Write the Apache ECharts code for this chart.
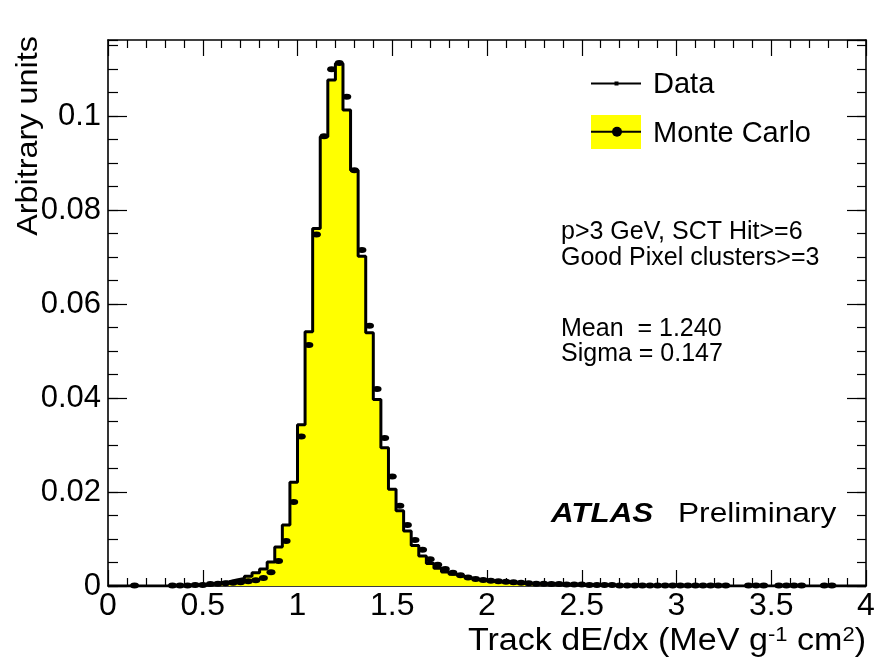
<!DOCTYPE html>
<html>
<head>
<meta charset="utf-8">
<script src="https://cdn.jsdelivr.net/npm/echarts@6/dist/echarts.min.js"></script>
<style>
  html, body { margin: 0; padding: 0; background: #fff; }
  #chart { width: 877px; height: 661px; }
</style>
</head>
<body>
<div id="chart"></div>
<script>
// Histogram binning: 100 bins of width 0.04 from 0 to 4
const BIN_WIDTH = 0.04;
const xRange = [0, 4];
const yRange = [0, 0.1162];
const xMajorStep = 0.5;
const yMajorStep = 0.02;
const yMinorStep = 0.005;

// Monte Carlo bin contents (bin i covers [0.04*i, 0.04*(i+1)])
const mcValues = [
  0, 0, 0, 0, 0, 0, 0, 0, 0, 0,
  0, 0.0001, 0.0002, 0.0004, 0.0007, 0.0009, 0.0013, 0.0016, 0.0021, 0.0028,
  0.0036, 0.0051, 0.0083, 0.0130, 0.0221, 0.0343, 0.0541, 0.0761, 0.0956, 0.1077,
  0.1112, 0.1013, 0.0885, 0.0702, 0.0539, 0.0397, 0.0294, 0.0206, 0.0160, 0.0117,
  0.0086, 0.0064, 0.0048, 0.0038, 0.0030, 0.0025, 0.0021, 0.0017, 0.0014, 0.0012,
  0.0010, 0.0009, 0.0008, 0.0007, 0.0006, 0.0005, 0.0005, 0.0004, 0.0004, 0.0003,
  0.0003, 0.0003, 0.0002, 0.0002, 0.0002, 0.0002, 0.0001, 0.0001, 0.0001, 0.0001,
  0.0001, 0.0001, 0.0001, 0.0001, 0.0001, 0, 0, 0, 0, 0,
  0, 0, 0, 0, 0, 0, 0, 0, 0, 0,
  0, 0, 0, 0, 0, 0, 0, 0, 0, 0
];

// Data bin contents, plotted at bin centres (null = empty bin)
const dataValues = [
  null, null, null, 0.0001, null, null, null, null, 0.0001, 0.0001,
  0.0001, 0.0002, 0.0002, 0.0004, 0.0005, 0.0006, 0.0007, 0.0008, 0.0010, 0.0012,
  0.0017, 0.0029, 0.0053, 0.0096, 0.0179, 0.0318, 0.0513, 0.0748, 0.0957, 0.1100,
  0.1113, 0.1041, 0.0885, 0.0715, 0.0554, 0.0419, 0.0315, 0.0233, 0.0171, 0.0130,
  0.0098, 0.0077, 0.0057, 0.0045, 0.0036, 0.0028, 0.0023, 0.0018, 0.0015, 0.0013,
  0.0011, 0.0010, 0.0009, 0.0008, 0.0007, 0.0006, 0.0005, 0.0005, 0.0004, 0.0004,
  0.0003, 0.0003, 0.0003, 0.0002, 0.0002, 0.0002, 0.0002, 0.0001, 0.0001, 0.0001,
  0.0001, 0.0001, 0.0001, 0.0001, 0.0001, 0.0001, 0.0001, 0.0001, 0.0001, 0.0001,
  0.0001, 0.0001, null, null, 0.0001, 0.0001, 0.0001, null, 0.0001, 0.0001,
  0.0001, 0.0001, null, null, 0.0001, 0.0001, null, null, null, null
];

const seriesNames = ['Data', 'Monte Carlo'];
const cutLines = ['p>3 GeV, SCT Hit>=6', 'Good Pixel clusters>=3'];
const fitLines = ['Mean  = 1.240', 'Sigma = 0.147'];

const FONT = '"Liberation Sans", Arial, Helvetica, sans-serif';
const INK = '#000';
const MC_FILL = '#ffff00';

// Step outline: one point per lower bin edge, plus the closing upper edge
const mcStep = mcValues.map((v, i) => [i * BIN_WIDTH, v]);
mcStep.push([mcValues.length * BIN_WIDTH, mcValues[mcValues.length - 1]]);

const dataPoints = dataValues
  .map((v, i) => (v == null ? null : [(i + 0.5) * BIN_WIDTH, v]))
  .filter(p => p !== null);

const tickLine = { color: INK, width: 1.2 };

function xAxisDef(position, withLabels) {
  return {
    type: 'value', position, min: xRange[0], max: xRange[1], interval: xMajorStep,
    axisLine: { show: true, onZero: false, lineStyle: { color: INK, width: 1.6 } },
    axisTick: { show: true, inside: true, length: 16, lineStyle: tickLine },
    minorTick: { show: true, splitNumber: 5, length: 8, lineStyle: tickLine },
    splitLine: { show: false }, minorSplitLine: { show: false },
    axisLabel: withLabels
      ? { show: true, color: INK, fontFamily: FONT, fontSize: 32, margin: 4 }
      : { show: false }
  };
}

function yAxisDef(position, step, tickLen, withLine, withLabels) {
  return {
    type: 'value', position, min: yRange[0], max: yRange[1], interval: step,
    axisLine: { show: withLine, onZero: false, lineStyle: { color: INK, width: 1.6 } },
    axisTick: { show: true, inside: true, length: tickLen, lineStyle: tickLine },
    splitLine: { show: false },
    axisLabel: withLabels
      ? { show: true, color: INK, fontFamily: FONT, fontSize: 31, margin: 7, showMaxLabel: false }
      : { show: false }
  };
}

const chart = echarts.init(document.getElementById('chart'), null, { renderer: 'canvas' });

const graphics = [
  // y-axis title
  {
    type: 'text', x: 29, y: 36, rotation: Math.PI / 2, scaleX: 1.08,
    style: { text: 'Arbitrary units', font: '30px ' + FONT, fill: INK,
             align: 'right', verticalAlign: 'middle', textAlign: 'right', textVerticalAlign: 'middle' }
  },
  // x-axis title with superscripts
  {
    type: 'text', x: 866, y: 641, scaleX: 1.1,
    style: {
      text: '{n|Track dE/dx (MeV g}{s|-1}{n| cm}{s|2}{n|)}',
      fill: INK, align: 'right', verticalAlign: 'middle', textAlign: 'right', textVerticalAlign: 'middle',
      rich: {
        n: { fontSize: 31, fontFamily: FONT, fill: INK },
        s: { fontSize: 20, fontFamily: FONT, fill: INK, verticalAlign: 'top' }
      }
    }
  },
  // legend: Data
  { type: 'line', shape: { x1: 591, y1: 83.5, x2: 641, y2: 83.5 }, style: { stroke: INK, lineWidth: 2 } },
  { type: 'rect', shape: { x: 614.5, y: 81.5, width: 4, height: 4 }, style: { fill: INK } },
  {
    type: 'text', x: 653, y: 85,
    style: { text: seriesNames[0], font: '29px ' + FONT, fill: INK,
             align: 'left', verticalAlign: 'middle', textAlign: 'left', textVerticalAlign: 'middle' }
  },
  // legend: Monte Carlo
  { type: 'rect', shape: { x: 591, y: 115, width: 50, height: 34 }, style: { fill: MC_FILL } },
  { type: 'line', shape: { x1: 591, y1: 131.7, x2: 641, y2: 131.7 }, style: { stroke: INK, lineWidth: 2 } },
  { type: 'circle', shape: { cx: 617, cy: 131.7, r: 5 }, style: { fill: INK } },
  {
    type: 'text', x: 653, y: 134,
    style: { text: seriesNames[1], font: '29px ' + FONT, fill: INK,
             align: 'left', verticalAlign: 'middle', textAlign: 'left', textVerticalAlign: 'middle' }
  }
];

// Selection cuts and fit results
[[cutLines[0], 232], [cutLines[1], 258.5], [fitLines[0], 329], [fitLines[1], 354]].forEach(([t, y]) => {
  graphics.push({
    type: 'text', x: 561, y,
    style: { text: t, font: '25px ' + FONT, fill: INK,
             align: 'left', verticalAlign: 'middle', textAlign: 'left', textVerticalAlign: 'middle' }
  });
});

// Experiment label
graphics.push({
  type: 'text', x: 551, y: 514, scaleX: 1.12,
  style: { text: 'ATLAS', font: 'italic bold 28px ' + FONT, fill: INK,
           align: 'left', verticalAlign: 'middle', textAlign: 'left', textVerticalAlign: 'middle' }
});
graphics.push({
  type: 'text', x: 678, y: 514, scaleX: 1.13,
  style: { text: 'Preliminary', font: '28px ' + FONT, fill: INK,
           align: 'left', verticalAlign: 'middle', textAlign: 'left', textVerticalAlign: 'middle' }
});

chart.setOption({
  animation: false,
  backgroundColor: '#fff',
  grid: { left: 108, right: 11, top: 40, bottom: 75, containLabel: false, outerBoundsMode: 'none' },
  xAxis: [xAxisDef('bottom', true), xAxisDef('top', false)],
  yAxis: [
    yAxisDef('left', yMajorStep, 19, true, true),
    yAxisDef('left', yMinorStep, 10, false, false),
    yAxisDef('right', yMajorStep, 19, true, false),
    yAxisDef('right', yMinorStep, 9, false, false)
  ],
  series: [
    {
      name: seriesNames[1], type: 'line', step: 'end', data: mcStep,
      xAxisIndex: 0, yAxisIndex: 0,
      symbol: 'none', showSymbol: false,
      lineStyle: { color: INK, width: 3 },
      areaStyle: { color: MC_FILL, opacity: 1 },
      z: 2, silent: true
    },
    {
      name: seriesNames[0], type: 'scatter', data: dataPoints,
      xAxisIndex: 0, yAxisIndex: 0,
      symbol: 'path://M0,3 A4.5,3 0 1,0 9,3 A4.5,3 0 1,0 0,3 Z',
      symbolSize: [9, 6],
      itemStyle: { color: INK, opacity: 1 },
      z: 3, silent: true
    }
  ],
  graphic: graphics
});
</script>
</body>
</html>
